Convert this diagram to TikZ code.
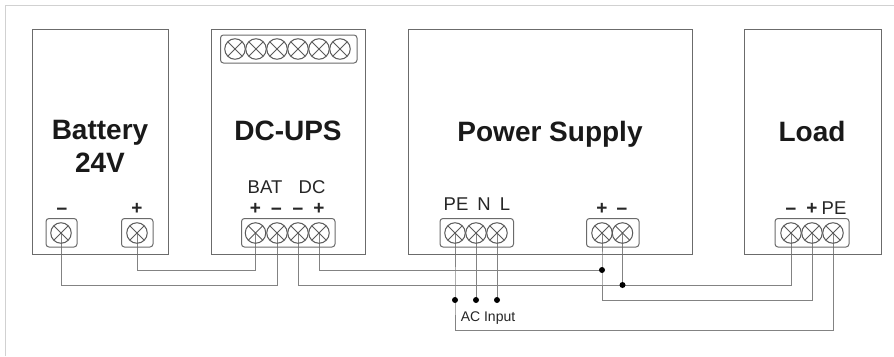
\documentclass[tikz,border=0pt]{standalone}
\usepackage{fontspec}
\setmainfont{Liberation Sans}
\usetikzlibrary{backgrounds}
\definecolor{ln}{HTML}{5A5A5A}
\tikzset{
  x=1pt,y=-1pt,
  unitbox/.style={draw=ln!90,line width=1.1pt,anchor=north west,inner sep=0,minimum width=#1},
  title/.style={font=\bfseries\fontsize{28}{33}\selectfont,align=center,text=black!90},
  lab/.style={font=\fontsize{18.5}{20}\selectfont,text=black!85,inner sep=0},
  sym/.style={font=\bfseries\fontsize{19}{20}\selectfont,text=black!85,inner sep=0},
  strip/.style={draw=ln!90,line width=1pt,rounded corners=3pt},
  screw/.style={circle,draw=ln,line width=1pt,inner sep=0,minimum size=20.5pt,
    path picture={\draw[ln,line width=0.8pt]
      (path picture bounding box.north west)--(path picture bounding box.south east)
      (path picture bounding box.north east)--(path picture bounding box.south west);}},
  wire/.style={draw=ln!75,line width=1pt},
  dot/.style={circle,fill=black,inner sep=0,minimum size=6pt},
}
\begin{document}
\begin{tikzpicture}
\useasboundingbox (0,0) rectangle (894,356);
% unit boxes
\node[unitbox=136pt,minimum height=225pt] (bat) at (32,28.5) {};
\node[unitbox=154pt,minimum height=225pt] (ups) at (211,28.5) {};
\node[unitbox=284pt,minimum height=225pt] (ps) at (408,28.5) {};
\node[unitbox=137pt,minimum height=225pt] (load) at (744,28.5) {};
% titles
\node[title] (t1) at (100,146) {Battery\\24V};
\node[title] (t2) at (288,131) {DC-UPS};
\node[title] (t3) at (550,134) {Power Supply};
\node[title] (t4) at (812,131) {Load};
% strips
\draw[strip] (220.5,35) rectangle (357,63);
\draw[strip] (46,218.5) rectangle (77,247);
\draw[strip] (121.5,218.5) rectangle (153,247);
\draw[strip] (241.5,218.5) rectangle (335,247);
\draw[strip] (440,218.5) rectangle (513.5,247);
\draw[strip] (586.5,218.5) rectangle (639,247);
\draw[strip] (775,218.5) rectangle (849,247);
% top screws
\foreach \i/\x in {1/235,2/256,3/277,4/298,5/319,6/340}
  \node[screw] (top\i) at (\x,49) {};
% terminal screws
\node[screw] (bm) at (61,233) {};
\node[screw] (bp) at (137,233) {};
\node[screw] (u1) at (255.5,233) {};
\node[screw] (u2) at (277,233) {};
\node[screw] (u3) at (298,233) {};
\node[screw] (u4) at (319,233) {};
\node[screw] (pe) at (455,233) {};
\node[screw] (n) at (476,233) {};
\node[screw] (l) at (497,233) {};
\node[screw] (op) at (602,233) {};
\node[screw] (om) at (622.5,233) {};
\node[screw] (lm) at (791,233) {};
\node[screw] (lp) at (812,233) {};
\node[screw] (lpe) at (833,233) {};
% junctions
\node[dot] (j1) at (602,270) {};
\node[dot] (j2) at (622.5,285) {};
\node[dot] (j3) at (455,300) {};
\node[dot] (j4) at (476,300) {};
\node[dot] (j5) at (497,300) {};
% wiring, page and frame
\begin{scope}[on background layer]
\fill[white] (0,0) rectangle (894,356);
\draw[black!18,line width=1.2pt] (5.5,356) -- (5.5,5.5) -- (894,5.5);
\path[wire] (bm.center) -- (61,285) -- (277,285) -- (u2.center);
\path[wire] (bp.center) -- (137,270) -- (255.5,270) -- (u1.center);
\path[wire] (u3.center) -- (298,285) -- (791,285) -- (lm.center);
\path[wire] (u4.center) |- (j1.center);
\path[wire] (op.center) -- (j1.center) -- (602,300) -- (812,300) -- (lp.center);
\path[wire] (om.center) -- (j2.center);
\path[wire] (pe.center) -- (j3.center) -- (455,330) -- (833,330) -- (lpe.center);
\path[wire] (n.center) -- (j4.center);
\path[wire] (l.center) -- (j5.center);
\end{scope}
% labels
\node[sym] (s1) at (62,211.5) {\textminus};
\node[sym] (s2) at (137,209) {+};
\node[lab] (bt) at (265,187) {BAT};
\node[lab] (dc) at (312,187) {DC};
\node[sym] (s3) at (255.5,209) {+};
\node[sym] (s4) at (276.5,211.5) {\textminus};
\node[sym] (s5) at (298,211.5) {\textminus};
\node[sym] (s6) at (319,209) {+};
\node[lab] (lpe1) at (456,204) {PE};
\node[lab] (ln1) at (484,204) {N};
\node[lab] (ll) at (505,204) {L};
\node[sym] (s7) at (602,209) {+};
\node[sym] (s8) at (622,211.5) {\textminus};
\node[sym] (s9) at (791,211.5) {\textminus};
\node[sym] (s10) at (812,209) {+};
\node[lab] (lpe2) at (834,208) {PE};
\node[font=\fontsize{14}{16}\selectfont,inner sep=0,text=black!85] (ac) at (488,318) {AC Input};
\end{tikzpicture}
\end{document}
